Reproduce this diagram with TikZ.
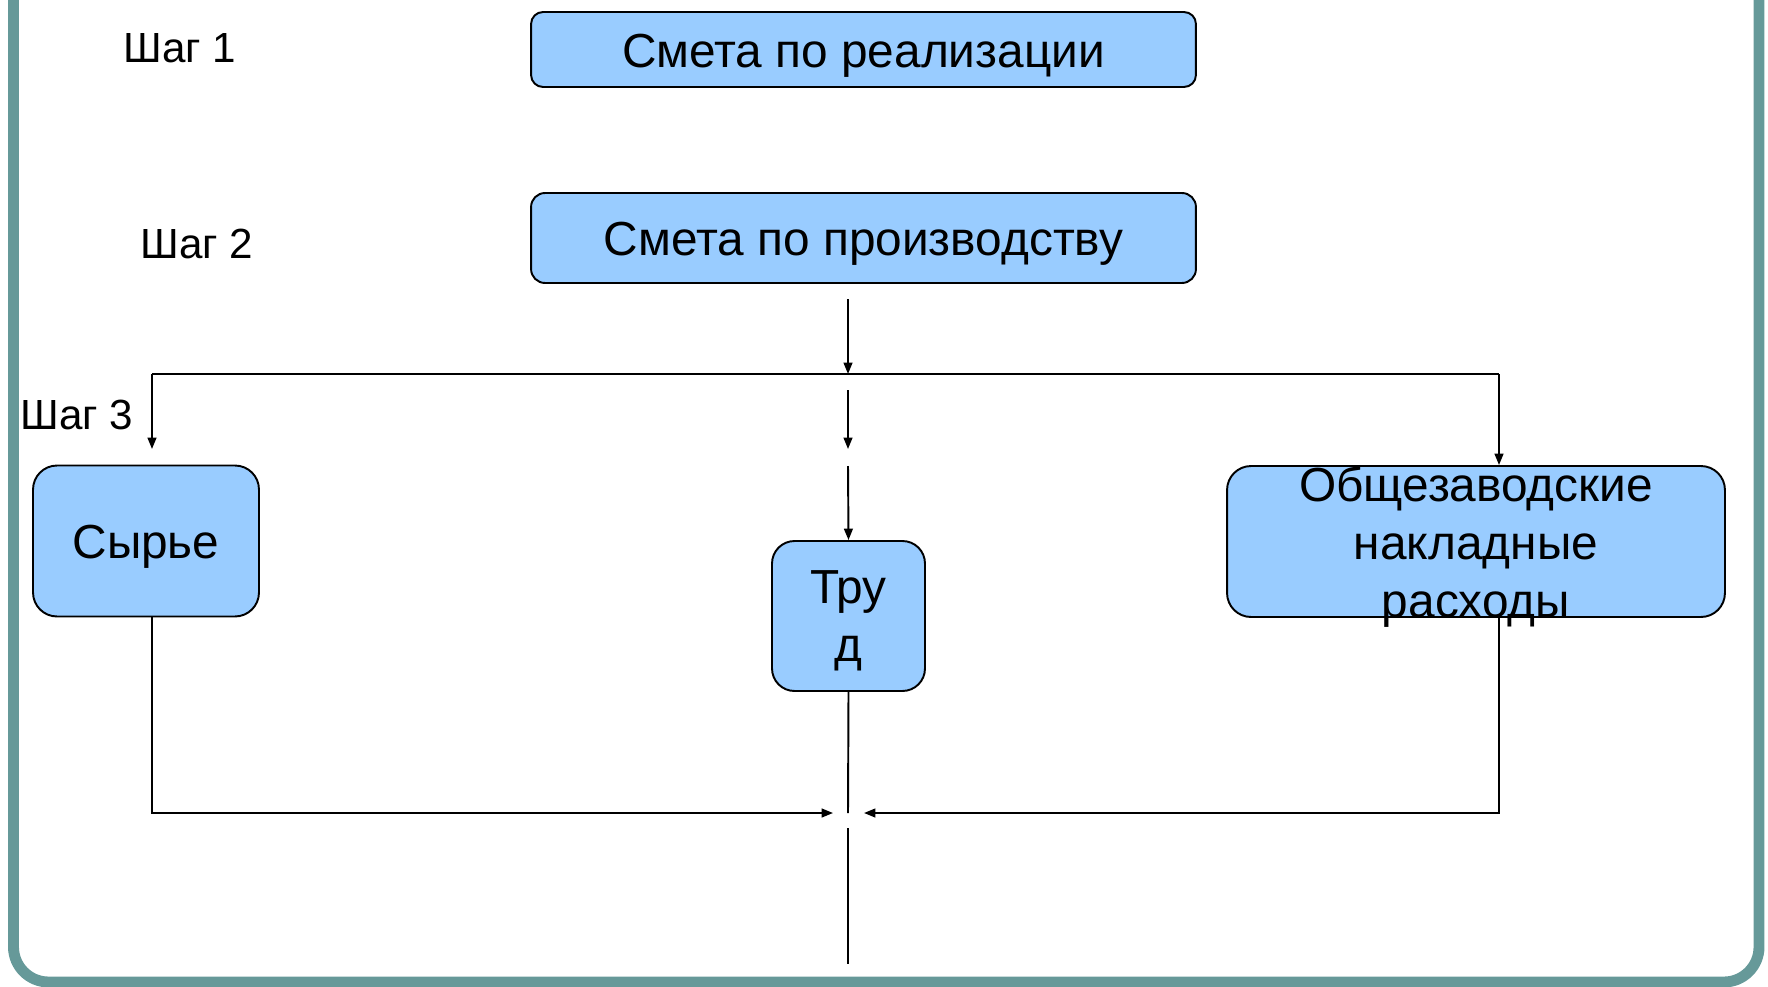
\documentclass[tikz,border=0pt]{standalone}
\usepackage{fontspec}
\setmainfont{Liberation Sans}
\usetikzlibrary{arrows.meta}
\definecolor{boxblue}{HTML}{99CCFF}
\definecolor{frameteal}{HTML}{669999}

\begin{document}
\begin{tikzpicture}[x=0.02cm,y=-0.02cm,
  budget/.style={draw,fill=boxblue,line width=1.1pt,inner sep=0pt,
    text height=26pt,text depth=6pt,font=\fontsize{27.2}{33}\selectfont},
  boxtext/.style={align=center,yshift=-3pt,font=\fontsize{27.2}{33}\selectfont},
  link/.style={line width=1.1pt},
  arr/.style={link,-{Triangle[length=6.5pt,width=5pt]}}]
  \useasboundingbox (0,0) rectangle (1768,987);
  \clip (0,0) rectangle (1768,987);
  \draw[frameteal,line width=6.2pt,rounded corners=0.7cm] (13.5,-80) rectangle (1759,982);
  % step labels
  \foreach \n/\x/\y in {1/180/48,2/197/244,3/77/415}
    \node[font=\fontsize{24}{29}\selectfont] (step\n) at (\x,\y) {Шаг \n};
  % budgets
  \node[budget,minimum width=13.3cm,minimum height=1.5cm,rounded corners=0.24cm] (sales) at (863.5,49.5) {Смета по реализации};
  \node[budget,minimum width=13.3cm,minimum height=1.8cm,rounded corners=0.28cm] (prod) at (863.5,238) {Смета по производству};
  \node[budget,minimum width=4.52cm,minimum height=3.02cm,rounded corners=0.48cm] (raw) at (146,541) {Сырье};
  \node[budget,minimum width=3.06cm,minimum height=3cm,rounded corners=0.45cm] (labour) at (848.5,616) {};
  \node[boxtext] (labourtxt) at (labour) {Тру\\д};
  \node[budget,minimum width=9.96cm,minimum height=3.02cm,rounded corners=0.48cm] (overhead) at (1476,541.5) {};
  \node[boxtext] (overheadtxt) at (overhead) {Общезаводские\\накладные\\расходы};
  % distribution bus
  \coordinate (prodout) at (848,299);
  \coordinate (busL) at (152,374);
  \coordinate (busM) at (848,374);
  \coordinate (busR) at (1499,374);
  \coordinate (midA) at (848,390);
  \coordinate (midB) at (848,449);
  \coordinate (midC) at (848,466);
  \coordinate (rawin) at (152,449);
  \draw[arr] (prodout) -- (busM);
  \draw[link] (busL) -- (busR);
  \draw[arr] (busL) -- (rawin);
  \draw[arr] (busR) -- (busR |- overhead.north);
  \draw[arr] (midA) -- (midB);
  \draw[arr] (midC) -- (labour.north);
  % collecting lines
  \coordinate (joinL) at (833,813);
  \coordinate (joinM) at (848,813);
  \coordinate (joinR) at (864,813);
  \coordinate (outtop) at (848,828);
  \coordinate (outend) at (848,964);
  \draw[arr] (raw.south -| busL) |- (joinL);
  \draw[arr] (overhead.south -| busR) |- (joinR);
  \draw[link] (labour.south) -- (joinM);
  \draw[link] (outtop) -- (outend);
\end{tikzpicture}
\end{document}
